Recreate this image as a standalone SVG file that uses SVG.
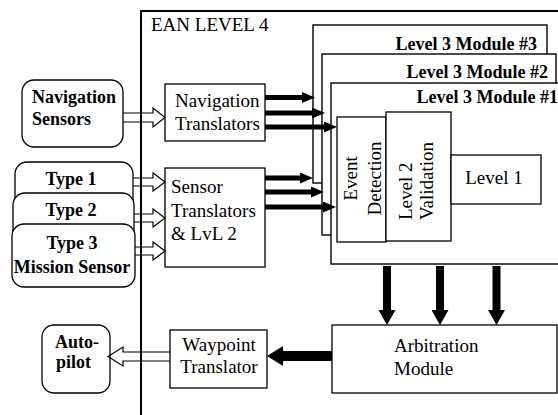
<svg xmlns="http://www.w3.org/2000/svg" width="558" height="415" viewBox="0 0 558 415" font-family="'Liberation Serif', 'Times New Roman', serif">
<defs>
<style>
text{font-family:'Liberation Serif','Times New Roman',serif;fill:#000}
.r{font-size:19px}
.b{font-size:18px;font-weight:bold}
.c{text-anchor:middle}
.box{fill:#fff;stroke:#000;stroke-width:1.3}
.rbox{fill:#fff;stroke:#000;stroke-width:1.3}
.mod{fill:#fff;stroke:#000;stroke-width:1.4}
.hollow{fill:none;stroke:#000;stroke-width:1.2;stroke-linejoin:miter}
.thin{stroke:#000;stroke-width:5;fill:none}
.down{stroke:#000;stroke-width:8;fill:none}
.left{stroke:#000;stroke-width:10;fill:none}
</style>
<marker id="ah" markerUnits="userSpaceOnUse" markerWidth="13" markerHeight="11" refX="0" refY="5.5" orient="auto" viewBox="0 0 13 11"><path d="M0,0 L13,5.5 L0,11 z" fill="#000"/></marker>
<marker id="ahD" markerUnits="userSpaceOnUse" markerWidth="15" markerHeight="17" refX="0" refY="8.5" orient="auto" viewBox="0 0 15 17"><path d="M0,0 L15,8.5 L0,17 z" fill="#000"/></marker>
<marker id="ahL" markerUnits="userSpaceOnUse" markerWidth="16" markerHeight="20" refX="0" refY="10" orient="auto" viewBox="0 0 16 20"><path d="M0,0 L16,10 L0,20 z" fill="#000"/></marker>
</defs>
<rect width="558" height="415" fill="#fff"/>

<g id="ean-level4">
<path d="M141,415 V11 H558" fill="none" stroke="#000" stroke-width="2"/>
<text class="r" x="151" y="31">EAN LEVEL 4</text>
</g>

<g id="module3">
<rect class="mod" x="313" y="25" width="234" height="158"/>
<text class="b" x="537" y="50" text-anchor="end">Level 3 Module #3</text>
</g>
<g id="module2">
<rect class="mod" x="322" y="54" width="234" height="181"/>
<text class="b" x="548" y="78" text-anchor="end">Level 3 Module #2</text>
</g>
<g id="module1">
<rect class="mod" x="331" y="83" width="240" height="181"/>
<text class="b" x="558" y="103" text-anchor="end">Level 3 Module #1</text>
</g>

<g id="event-detection">
<rect class="box" x="337" y="117" width="49" height="125"/>
<text class="r c" transform="translate(357,178.5) rotate(-90)">Event</text>
<text class="r c" transform="translate(381,178.5) rotate(-90)">Detection</text>
</g>
<g id="level2-validation">
<rect class="box" x="386" y="112" width="65" height="129"/>
<text class="r" transform="translate(412,220) rotate(-90)">Level 2</text>
<text class="r" transform="translate(433,220) rotate(-90)">Validation</text>
</g>
<g id="level1">
<rect class="box" x="451" y="155" width="90" height="49"/>
<text class="r c" x="494" y="184">Level 1</text>
</g>

<g id="navigation-sensors">
<rect class="rbox" x="22" y="80" width="101" height="67" rx="12"/>
<text class="b" x="32" y="103">Navigation</text>
<text class="b" x="32" y="125">Sensors</text>
</g>
<g id="navigation-translators">
<rect class="box" x="165" y="84" width="100" height="57"/>
<text class="r" x="175" y="107">Navigation</text>
<text class="r" x="175" y="130">Translators</text>
</g>

<g id="type1">
<rect class="rbox" x="15" y="162" width="118" height="60" rx="12"/>
<text class="b c" x="71" y="185">Type 1</text>
</g>
<g id="type2">
<rect class="rbox" x="13" y="193" width="121" height="60" rx="12"/>
<text class="b c" x="71" y="216">Type 2</text>
</g>
<g id="type3">
<rect class="rbox" x="12" y="224" width="123" height="63" rx="12"/>
<text class="b c" x="72" y="249">Type 3</text>
<text class="b c" x="72" y="273">Mission Sensor</text>
</g>

<g id="sensor-translators">
<rect class="box" x="165" y="168" width="100" height="99"/>
<text class="r" x="171" y="193">Sensor</text>
<text class="r" x="171" y="217">Translators</text>
<text class="r" x="171" y="240">&amp; LvL 2</text>
</g>

<g id="autopilot">
<rect class="rbox" x="42" y="325" width="68" height="68" rx="12"/>
<text class="b" x="55" y="348">Auto-</text>
<text class="b" x="56" y="368">pilot</text>
</g>
<g id="waypoint-translator">
<rect class="box" x="170" y="330" width="97" height="58"/>
<text class="r c" x="219" y="351">Waypoint</text>
<text class="r c" x="219" y="373">Translator</text>
</g>
<g id="arbitration-module">
<rect class="box" x="332" y="325" width="225" height="68"/>
<text class="r" x="394" y="352">Arbitration</text>
<text class="r" x="394" y="375">Module</text>
</g>

<g id="connectors">
<path class="hollow" d="M123,113 H153 V108 L165,117.5 L153,127 V122 H123"/>
<path class="hollow" d="M133,178 H153 V173 L165,182 L153,191 V186 H133"/>
<path class="hollow" d="M134,214 H153 V209 L165,218 L153,227 V222 H134"/>
<path class="hollow" d="M135,247 H153 V242 L165,251 L153,260 V255 H135"/>
<path class="hollow" d="M170,352 H123 V347 L108,356.5 L123,366 V361 H170"/>

<line class="thin" x1="265" y1="97.5" x2="302" y2="97.5" marker-end="url(#ah)"/>
<line class="thin" x1="265" y1="113" x2="312" y2="113" marker-end="url(#ah)"/>
<line class="thin" x1="265" y1="127" x2="324" y2="127" marker-end="url(#ah)"/>
<line class="thin" x1="265" y1="178" x2="300" y2="178" marker-end="url(#ah)"/>
<line class="thin" x1="265" y1="192" x2="311" y2="192" marker-end="url(#ah)"/>
<line class="thin" x1="265" y1="207" x2="323" y2="207" marker-end="url(#ah)"/>

<line class="down" x1="387" y1="266" x2="387" y2="310" marker-end="url(#ahD)"/>
<line class="down" x1="440" y1="266" x2="440" y2="310" marker-end="url(#ahD)"/>
<line class="down" x1="496.5" y1="266" x2="496.5" y2="310" marker-end="url(#ahD)"/>

<line class="left" x1="332" y1="356" x2="283" y2="356" marker-end="url(#ahL)"/>
</g>
</svg>
